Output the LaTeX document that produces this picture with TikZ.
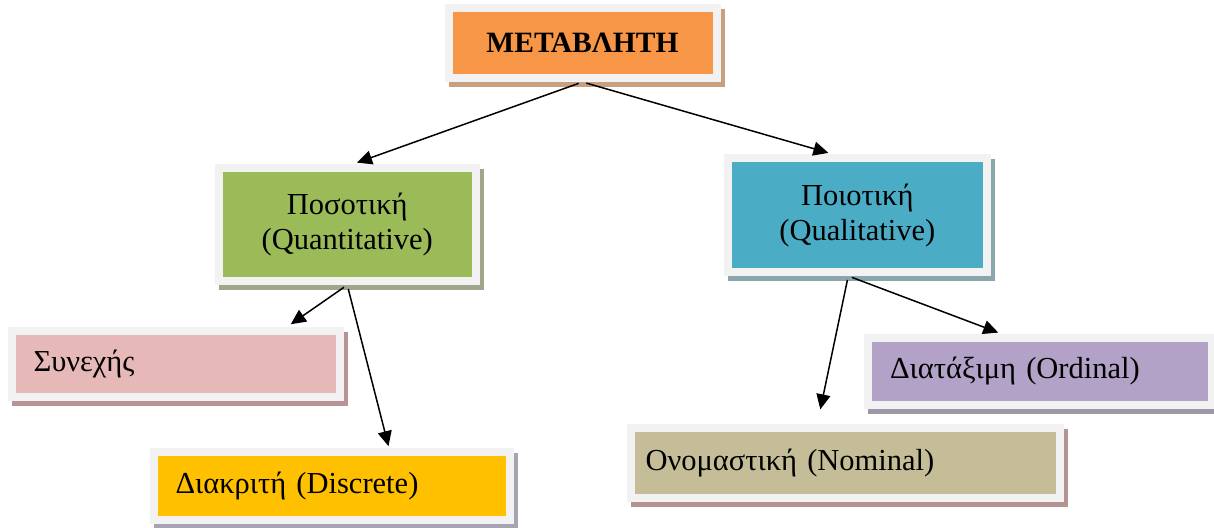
\documentclass[tikz,border=0pt]{standalone}
\usepackage{fontspec}
\setmainfont{Liberation Serif}
\usetikzlibrary{shadows, arrows.meta}
\definecolor{framegray}{HTML}{F2F2F2}
\definecolor{varorange}{HTML}{F79646}
\definecolor{varshadow}{HTML}{C8A080}
\definecolor{quantgreen}{HTML}{9BBB59}
\definecolor{quantshadow}{HTML}{9EA78A}
\definecolor{qualblue}{HTML}{4BACC6}
\definecolor{qualshadow}{HTML}{8AA5AC}
\definecolor{contpink}{HTML}{E6B9B8}
\definecolor{contshadow}{HTML}{B89494}
\definecolor{discyellow}{HTML}{FFC000}
\definecolor{discshadow}{HTML}{A8A3B3}
\definecolor{ordpurple}{HTML}{B2A2C7}
\definecolor{ordshadow}{HTML}{9D97A6}
\definecolor{nomkhaki}{HTML}{C4BD97}
\definecolor{nomshadow}{HTML}{B59393}
\tikzstyle{box} = [rectangle, draw=framegray, line width=8pt, inner sep=0pt, text centered, font=\fontsize{30.5}{35}\selectfont]
\tikzstyle{leftbox} = [box, inner xsep=22pt, align=left]
\tikzstyle{arrow} = [line width=1.5pt, -{Triangle[length=15pt, width=14pt]}, shorten <=4pt, shorten >=4pt]
\tikzset{shadowed/.style={drop shadow={shadow xshift=4pt, shadow yshift=-5pt, fill=#1, draw=#1, line width=8pt, opacity=1}}}

\begin{document}
\begin{tikzpicture}[x=1pt, y=-1pt]
        \useasboundingbox (0,0) rectangle (1214,527);

        \node (var) [box, fill=varorange, shadowed=varshadow, minimum width=268pt, minimum height=70pt,
        font=\fontsize{29.5}{34}\selectfont\bfseries] at (582.5,43) {ΜΕΤΑΒΛΗΤΗ};
        \node (quant) [box, fill=quantgreen, shadowed=quantshadow, minimum width=257.5pt, minimum height=113pt,
        align=center] at (347.25,224.5) {Ποσοτική\\(Quantitative)};
        \node (qual) [box, fill=qualblue, shadowed=qualshadow, minimum width=258.5pt, minimum height=114pt,
        align=center] at (857.25,215) {Ποιοτική\\(Qualitative)};
        \node (cont) [leftbox, fill=contpink, shadowed=contshadow, text width=284pt, minimum height=66pt]
        at (175.5,363.5) {Συνεχής};
        \node (disc) [leftbox, fill=discyellow, shadowed=discshadow, text width=312pt, minimum height=67.5pt]
        at (331.5,485.75) {Διακριτή (Discrete)};
        \node (ord) [leftbox, fill=ordpurple, shadowed=ordshadow, text width=300pt, minimum height=67pt]
        at (1040,371.5) {Διατάξιμη (Ordinal)};
        \node (nom) [leftbox, fill=nomkhaki, shadowed=nomshadow, text width=399.5pt, minimum height=70pt,
        inner xsep=14.5pt] at (845.25,463) {Ονομαστική (Nominal)};

        \draw [arrow] (var.south) -- ([xshift=6pt]quant.north);
        \draw [arrow] (var.south) -- ([xshift=-25pt]qual.north);
        \draw [arrow] (quant.south) -- ([xshift=-56pt]cont.north east);
        \draw [arrow] (quant.south) -- ([xshift=58pt, yshift=-2pt]disc.north);
        \draw [arrow] ([xshift=-9pt]qual.south) -- ([xshift=-38pt]ord.north);
        \draw [arrow, shorten >=15pt] ([xshift=-9pt]qual.south) -- ([xshift=-28pt]nom.north);

    \end{tikzpicture}
\end{document}
